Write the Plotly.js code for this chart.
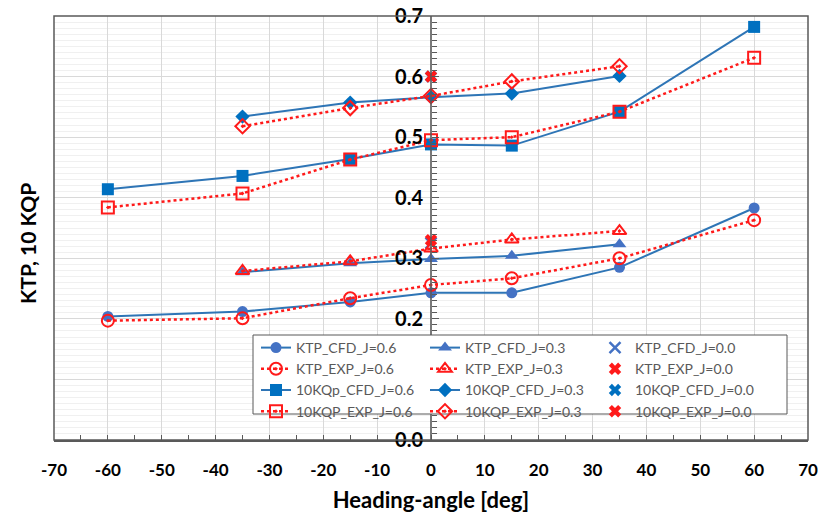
<!DOCTYPE html>
<html>
<head>
<meta charset="utf-8">
<script src="https://cdn.plot.ly/plotly-3.0.1.min.js"></script>
<style>
  html, body { margin: 0; padding: 0; background: #ffffff; }
  #chart { width: 818px; height: 520px; }
</style>
</head>
<body>
<div id="chart"></div>
<script>
// Heading angles [deg] at which each advance ratio was evaluated
const anglesJ06 = [-60, -35, -15, 0, 15, 35, 60];
const anglesJ03 = [-35, -15, 0, 15, 35];
const anglesJ00 = [0];

// Thrust coefficient KTP
const ktpCfdJ06 = [0.204, 0.212, 0.228, 0.243, 0.243, 0.285, 0.383];
const ktpExpJ06 = [0.197, 0.201, 0.234, 0.256, 0.267, 0.300, 0.363];
const ktpCfdJ03 = [0.277, 0.292, 0.299, 0.304, 0.323];
const ktpExpJ03 = [0.279, 0.295, 0.316, 0.331, 0.345];
const ktpCfdJ00 = [0.325];
const ktpExpJ00 = [0.330];

// Torque coefficient 10 KQP
const kqpCfdJ06 = [0.414, 0.436, 0.464, 0.488, 0.486, 0.542, 0.682];
const kqpExpJ06 = [0.384, 0.407, 0.463, 0.495, 0.500, 0.542, 0.631];
const kqpCfdJ03 = [0.534, 0.557, 0.566, 0.572, 0.601];
const kqpExpJ03 = [0.518, 0.548, 0.568, 0.592, 0.617];
const kqpCfdJ00 = [0.600];
const kqpExpJ00 = [0.600];

const xTicks = [-70, -60, -50, -40, -30, -20, -10, 0, 10, 20, 30, 40, 50, 60, 70];
const yTicks = [0.0, 0.1, 0.2, 0.3, 0.4, 0.5, 0.6, 0.7];
// the 0.1 label sits underneath the legend box
const yTickText = ['0.0', '', '0.2', '0.3', '0.4', '0.5', '0.6', '0.7'];

const BLUE_LINE = '#2E75B6';
const BLUE_LIGHT = '#4472C4';
const BLUE_DARK = '#0070C0';
const RED = '#FF1A1A';
const AXIS = '#595959';
const FONT = 'Lato, "Open Sans", "Liberation Sans", sans-serif';

// plot area in pixels: left 54, right 808, top 16, bottom 440
const PL = 54, PW = 754, PT = 16, PH = 424;
const px2paperX = px => (px - PL) / PW;
const px2paperY = py => (PT + PH - py) / PH;

function cfd(name, x, y, symbol, size, color, legend) {
  return {
    type: 'scatter', mode: 'lines+markers', name: name, x: x, y: y, legend: legend,
    line: { color: BLUE_LINE, width: 2 },
    marker: { symbol: symbol, size: size, color: color }
  };
}
function exp(name, x, y, symbol, size, legend) {
  return {
    type: 'scatter', mode: 'lines+markers', name: name, x: x, y: y, legend: legend,
    line: { color: RED, width: 2.5, dash: 'dot' },
    marker: { symbol: symbol, size: size, color: RED, line: { color: RED, width: 2 } }
  };
}
function single(name, x, y, symbol, size, color, width, legend) {
  return {
    type: 'scatter', mode: 'markers', name: name, x: x, y: y, legend: legend,
    marker: { symbol: symbol, size: size, color: color, line: { color: color, width: width } }
  };
}

const traces = [
  cfd('KTP_CFD_J=0.6', anglesJ06, ktpCfdJ06, 'circle', 11, BLUE_LIGHT, 'legend'),
  cfd('KTP_CFD_J=0.3', anglesJ03, ktpCfdJ03, 'triangle-up', 12, BLUE_LIGHT, 'legend2'),
  cfd('10KQp_CFD_J=0.6', anglesJ06, kqpCfdJ06, 'square', 12, BLUE_DARK, 'legend'),
  cfd('10KQP_CFD_J=0.3', anglesJ03, kqpCfdJ03, 'diamond', 11, BLUE_DARK, 'legend2'),
  single('KTP_CFD_J=0.0', anglesJ00, ktpCfdJ00, 'x-thin-open', 11, BLUE_LIGHT, 2.5, 'legend3'),
  single('10KQP_CFD_J=0.0', anglesJ00, kqpCfdJ00, 'x', 11, BLUE_DARK, 0, 'legend3'),
  exp('KTP_EXP_J=0.6', anglesJ06, ktpExpJ06, 'circle-open-dot', 12, 'legend'),
  exp('KTP_EXP_J=0.3', anglesJ03, ktpExpJ03, 'triangle-up-open-dot', 12, 'legend2'),
  exp('10KQP_EXP_J=0.6', anglesJ06, kqpExpJ06, 'square-open-dot', 12, 'legend'),
  exp('10KQP_EXP_J=0.3', anglesJ03, kqpExpJ03, 'diamond-open-dot', 11, 'legend2'),
  single('KTP_EXP_J=0.0', anglesJ00, ktpExpJ00, 'x', 11, RED, 0, 'legend3'),
  single('10KQP_EXP_J=0.0', anglesJ00, kqpExpJ00, 'x', 11, RED, 0, 'legend3')
];

// legend rows inside each J column: KTP_CFD, KTP_EXP, 10KQP_CFD, 10KQP_EXP
const rowOrder = ['KTP_CFD', 'KTP_EXP', '10KQp_CFD', '10KQP_CFD', '10KQP_EXP'];
traces.forEach(t => {
  const key = t.name.split('_J')[0];
  t.legendrank = rowOrder.indexOf(key) + 1;
});

function legendAt(px, py) {
  return {
    xref: 'paper', yref: 'paper',
    x: px2paperX(px), y: px2paperY(py), xanchor: 'left', yanchor: 'top',
    orientation: 'v', bgcolor: 'rgba(0,0,0,0)', borderwidth: 0,
    tracegroupgap: 0, itemwidth: 30,
    font: { family: FONT, size: 14, color: '#595959' }
  };
}

const layout = {
  width: 818, height: 520,
  margin: { l: PL, r: 818 - PL - PW, t: PT, b: 520 - PT - PH },
  paper_bgcolor: '#ffffff', plot_bgcolor: '#ffffff',
  font: { family: FONT, color: '#000000' },
  showlegend: true,
  xaxis: {
    range: [-70, 70], tickvals: xTicks, ticktext: xTicks.map(String),
    automargin: false,
    showgrid: true, gridcolor: '#D9D9D9', gridwidth: 1.2,
    zeroline: false, showline: true, linecolor: AXIS, linewidth: 1.5,
    ticks: 'inside', ticklen: 5, tickcolor: AXIS,
    minor: { dtick: 5, ticks: 'inside', ticklen: 5, tickcolor: AXIS, showgrid: false },
    ticklabelstandoff: 14,
    tickfont: { family: FONT, size: 17, color: '#000000', weight: 'bold' },
    title: { text: 'Heading-angle [deg]', font: { family: FONT, size: 22, color: '#000000', weight: 'bold' }, standoff: 13 },
    fixedrange: true
  },
  yaxis: {
    range: [0, 0.7], tickvals: yTicks, ticktext: yTickText,
    anchor: 'free', position: 0.5, automargin: false,
    showgrid: true, gridcolor: '#D9D9D9', gridwidth: 1.2,
    zeroline: false, showline: false,
    ticks: 'inside', ticklen: 7, tickcolor: AXIS,
    minor: { dtick: 0.01, ticks: 'inside', ticklen: 5, tickcolor: AXIS, showgrid: true, gridcolor: '#F0F0F0', gridwidth: 1 },
    ticklabelstandoff: 8,
    tickfont: { family: FONT, size: 20, color: '#000000', weight: 'bold' },
    fixedrange: true
  },
  legend: legendAt(256, 332),
  legend2: legendAt(425, 332),
  legend3: legendAt(595, 332),
  shapes: [
    // outer frame of the plotting area
    { type: 'rect', xref: 'paper', yref: 'paper', x0: 0, x1: 1, y0: 0, y1: 1,
      line: { color: AXIS, width: 1.5 }, fillcolor: 'rgba(0,0,0,0)', layer: 'above' },
    // vertical value axis through heading = 0
    { type: 'line', xref: 'x', yref: 'paper', x0: 0, x1: 0, y0: 0, y1: 1,
      line: { color: AXIS, width: 1.5 }, layer: 'above' },
    // legend box
    { type: 'rect', xref: 'paper', yref: 'paper',
      x0: px2paperX(253), x1: px2paperX(787), y0: px2paperY(414), y1: px2paperY(335),
      line: { color: AXIS, width: 1 }, fillcolor: '#ffffff', layer: 'above' }
  ],
  annotations: [
    { text: 'KTP, 10 KQP', xref: 'paper', yref: 'paper', x: px2paperX(27), y: px2paperY(244),
      xanchor: 'center', yanchor: 'middle', textangle: -90, showarrow: false,
      font: { family: FONT, size: 21, color: '#000000', weight: 'bold' } }
  ]
};

Plotly.newPlot('chart', traces, layout, { displayModeBar: false, staticPlot: true });
</script>
</body>
</html>
